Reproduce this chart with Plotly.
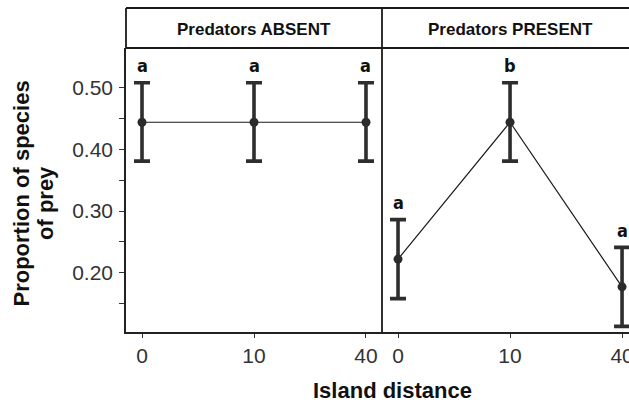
import plotly.graph_objects as go
from plotly.subplots import make_subplots

# ---- data ----
distance = ["0", "10", "40"]
panels = ["Predators ABSENT", "Predators PRESENT"]
absent_mean = [0.444, 0.444, 0.444]
absent_upper = [0.508, 0.508, 0.508]
absent_lower = [0.381, 0.381, 0.381]
present_mean = [0.222, 0.444, 0.177]
present_upper = [0.286, 0.508, 0.241]
present_lower = [0.158, 0.381, 0.113]
absent_letters = ["a", "a", "a"]
present_letters = ["a", "b", "a"]
y_ticks = [0.20, 0.30, 0.40, 0.50]

# ---- layout geometry (pixels) ----
W, H = 629, 403
L, R, T, B = 126, 0, 48, 71
PW = W - L - R
PH = H - T - B
split = 256 / PW
strip_h = 40 / PH


def px_x(px):
    return (px - L) / PW


def px_y(py):
    return (H - B - py) / PH


fig = make_subplots(rows=1, cols=2, shared_yaxes=True, horizontal_spacing=0)

series = [
    (absent_mean, absent_upper, absent_lower, absent_letters, 1),
    (present_mean, present_upper, present_lower, present_letters, 2),
]
for mean, up, lo, letters, col in series:
    fig.add_trace(
        go.Scatter(
            x=distance, y=mean, mode="lines+markers",
            line=dict(color="#1a1a1a", width=1.2),
            marker=dict(color="#2b2b2b", size=9),
            error_y=dict(type="data", symmetric=False,
                         array=[u - m for u, m in zip(up, mean)],
                         arrayminus=[m - l for m, l in zip(mean, lo)],
                         color="#2e2e2e", thickness=3.6, width=8),
            showlegend=False, cliponaxis=False,
        ),
        row=1, col=col,
    )
    xr = "x" if col == 1 else "x2"
    yr = "y" if col == 1 else "y2"
    for i, (u, t) in enumerate(zip(up, letters)):
        # category axes: annotation x given as category index
        fig.add_annotation(
            x=i, y=u, xref=xr, yref=yr, text=t, showarrow=False,
            yanchor="middle", yshift=17,
            font=dict(family="Liberation Sans Narrow, DejaVu Sans Condensed, DejaVu Sans, sans-serif",
                      size=18, color="#111111", weight="bold"),
        )

axis_font = dict(family="Liberation Sans, Arial, sans-serif", size=21, color="#333333")

fig.update_xaxes(
    type="category", categoryorder="array", categoryarray=distance,
    showline=True, linecolor="#222222", linewidth=1.6,
    ticks="outside", ticklen=4, tickwidth=1.3, tickcolor="#333333",
    tickfont=axis_font, showgrid=False, zeroline=False, automargin=False,
)
fig.update_layout(
    xaxis=dict(domain=[0, split], range=[-0.143, 2.143]),
    xaxis2=dict(domain=[split, 1], range=[-0.143, 2.062]),
)
fig.update_yaxes(
    range=[0.1038, 0.5644], showgrid=False, zeroline=False, automargin=False,
)
fig.update_layout(
    yaxis=dict(
        tickvals=y_ticks, tickformat=".2f", ticks="outside", ticklen=5,
        tickwidth=1.3, tickcolor="#333333", tickfont=axis_font,
        showline=True, linecolor="#222222", linewidth=1.6,
        ticklabelstandoff=2,
        minor=dict(tickvals=[0.15, 0.25, 0.35, 0.45], ticks="outside",
                   ticklen=5, tickwidth=1.3, tickcolor="#333333"),
    ),
    yaxis2=dict(showticklabels=False, ticks="", showline=False),
)

# strip boxes and panel divider
line = dict(color="#1a1a1a", width=1.8)
fig.add_shape(type="line", xref="paper", yref="paper", x0=0, x1=1.05,
              y0=1 + strip_h, y1=1 + strip_h, line=line)
fig.add_shape(type="line", xref="paper", yref="paper", x0=0, x1=1.05,
              y0=1, y1=1, line=line)
fig.add_shape(type="line", xref="paper", yref="paper", x0=0, x1=0,
              y0=1, y1=1 + strip_h, line=line)
fig.add_shape(type="line", xref="paper", yref="paper", x0=split, x1=split,
              y0=0, y1=1 + strip_h, line=line)

strip_font = dict(family="Liberation Sans, Arial, sans-serif", size=17,
                  color="#111111", weight="bold")
fig.add_annotation(x=px_x(254), y=px_y(29.5), xref="paper", yref="paper",
                   text=panels[0], showarrow=False, font=strip_font,
                   xanchor="center", yanchor="middle")
fig.add_annotation(x=px_x(510), y=px_y(29.5), xref="paper", yref="paper",
                   text=panels[1], showarrow=False, font=strip_font,
                   xanchor="center", yanchor="middle")

title_font = dict(family="Liberation Sans, Arial, sans-serif", size=22,
                  color="#111111", weight="bold")
fig.add_annotation(x=px_x(20.5), y=px_y(194), xref="paper", yref="paper",
                   text="Proportion of species", textangle=-90, showarrow=False,
                   font=title_font, xanchor="center", yanchor="middle")
fig.add_annotation(x=px_x(45.5), y=px_y(203.5), xref="paper", yref="paper",
                   text="of prey", textangle=-90, showarrow=False,
                   font=title_font, xanchor="center", yanchor="middle")
fig.add_annotation(x=px_x(392), y=px_y(390.5), xref="paper", yref="paper",
                   text="Island distance", showarrow=False,
                   font=title_font, xanchor="center", yanchor="middle")

fig.update_layout(
    width=W, height=H,
    margin=dict(l=L, r=R, t=T, b=B, pad=0, autoexpand=False),
    paper_bgcolor="white", plot_bgcolor="white",
    showlegend=False,
)

fig.write_html(
    "out.html",
    config={"displayModeBar": False},
    post_script="document.body.style.margin='0';document.body.style.overflow='hidden';",
)
